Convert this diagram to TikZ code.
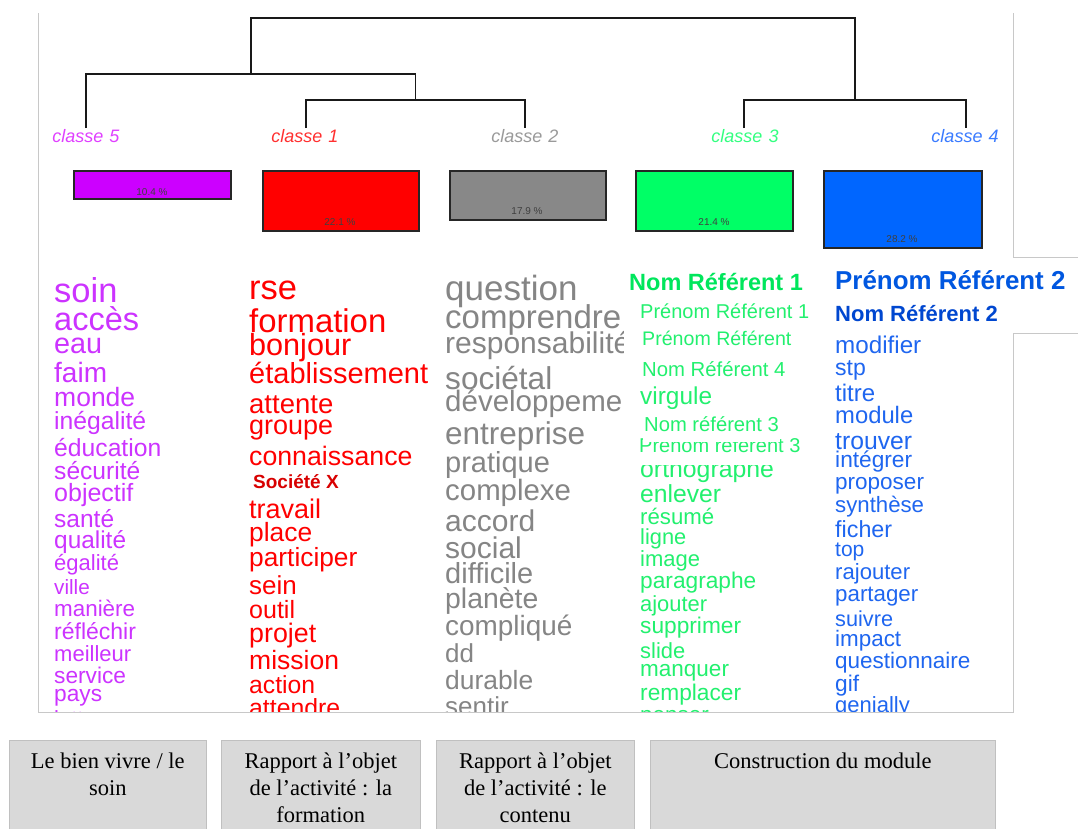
\documentclass[tikz,border=0pt]{standalone}
\usepackage{fontspec}
\setmainfont{Liberation Sans}
\newfontfamily\serifbox{Liberation Serif}
\newcommand\wsz[1]{\fontsize{#1}{#1}\selectfont}
\definecolor{cmag}{HTML}{CC33FF}
\definecolor{cred}{HTML}{FF0000}
\definecolor{cgray}{HTML}{858585}
\definecolor{cgreen}{HTML}{22F06E}
\definecolor{cblue}{HTML}{1F66F0}
\definecolor{bmag}{HTML}{CC00FF}
\definecolor{bred}{HTML}{FF0000}
\definecolor{bgray}{HTML}{888888}
\definecolor{bgreen}{HTML}{00FF66}
\definecolor{bblue}{HTML}{0066FF}
\definecolor{lmag}{HTML}{E040FF}
\definecolor{lred}{HTML}{FF3030}
\definecolor{lgray}{HTML}{9A9A9A}
\definecolor{lgreen}{HTML}{33FF80}
\definecolor{lblue}{HTML}{3A7BFF}
\definecolor{gbold}{HTML}{00E65C}
\definecolor{bbold}{HTML}{0057E0}
\definecolor{bbold2}{HTML}{0047D0}
\definecolor{sred}{HTML}{D80000}
\definecolor{boxfill}{HTML}{D9D9D9}
\definecolor{boxline}{HTML}{C0C0C0}
\definecolor{frameline}{HTML}{C8C8C8}
\begin{document}
\begin{tikzpicture}[x=1pt,y=-1pt,
  w/.style={anchor=base west, inner sep=0pt, font=\wsz{#1}},
  wb/.style={anchor=base west, inner sep=0pt, font=\wsz{#1}\bfseries},
  cls/.style={inner sep=0pt, font=\wsz{18}\itshape},
  dendro/.style={line width=1.5pt, draw=black!90},
  bar/.style={draw=black!85, line width=1.5pt, anchor=north west, inner sep=0pt},
  pct/.style={inner sep=0pt, font=\wsz{10}, text=black!75},
  frame/.style={draw=frameline, line width=1pt},
  bbox/.style={fill=boxfill, draw=boxline, line width=0.6pt, anchor=north west, inner sep=0pt, minimum height=92},
  btext/.style={font=\serifbox\fontsize{22.5}{27}\selectfont, align=center, inner sep=0pt, anchor=north}]
\useasboundingbox[fill=white] (0,0) rectangle (1078,828);

% class labels
\node[cls, text=lmag] (c5) at (86,136) {classe\,\,5};
\node[cls, text=lred] (c1) at (305,136) {classe\,\,1};
\node[cls, text=lgray] (c2) at (525,136) {classe\,\,2};
\node[cls, text=lgreen] (c3) at (745,136) {classe\,\,3};
\node[cls, text=lblue] (c4) at (965,136) {classe\,\,4};

% dendrogram
\coordinate (d5) at (86,128);
\coordinate (d1) at (306,128);
\coordinate (d2) at (525,128);
\coordinate (d3) at (744,128);
\coordinate (d4) at (966,128);
\coordinate (j12) at (415.5,100);
\coordinate (j34) at (855,100);
\coordinate (j512) at (250.75,74);
\draw[dendro] (d1) -- ++(0,-28) -| (d2);
\draw[dendro] (d5) -- ++(0,-54) -| (j12);
\draw[dendro] (d3) -- ++(0,-28) -| (d4);
\draw[dendro] (j512) -- ++(0,-56) -| (j34);

% bars
\node[bar, fill=bmag, minimum width=157, minimum height=28] (b5) at (73,170) {};
\node[bar, fill=bred, minimum width=156, minimum height=60] (b1) at (262,170) {};
\node[bar, fill=bgray, minimum width=156, minimum height=49] (b2) at (449,170) {};
\node[bar, fill=bgreen, minimum width=157, minimum height=60] (b3) at (635,170) {};
\node[bar, fill=bblue, minimum width=158, minimum height=77] (b4) at (823,170) {};
\node[pct] (p5) at (152,192) {10.4 \%};
\node[pct] (p1) at (340,222) {22.1 \%};
\node[pct] (p2) at (527,211) {17.9 \%};
\node[pct] (p3) at (714,222) {21.4 \%};
\node[pct] (p4) at (902,239) {28.2 \%};

% magenta column
\begin{scope}
\clip (38,255) rectangle (245,712);
\foreach \word/\sz/\yy [count=\i] in {soin/34.5/291, accès/32.5/319, eau/28.8/343, faim/28/372, monde/26.5/397, inégalité/24.7/420, éducation/24.7/447, sécurité/24.6/470, objectif/25/492, santé/24.5/518, qualité/24.4/539, égalité/22/562, ville/20.7/586, manière/22.4/608, réfléchir/23/631, meilleur/22/653, service/22.7/675, pays/22.7/693, lutter/22/718}
  \node[w=\sz, text=cmag] (m\i) at (54,{\yy+0.26*\sz+3}) {\word};
\end{scope}

% red column
\begin{scope}
\clip (245,255) rectangle (430,712);
\foreach \word/\sz/\yy [count=\i] in {rse/34.5/288, formation/32.9/321, bonjour/30.6/345, établissement/29/373, attente/27.5/403, groupe/27/424, connaissance/26.7/456}
  \node[w=\sz, text=cred] (r\i) at (249,{\yy+0.26*\sz+3}) {\word};
\node[wb=19, text=sred] (rX) at (253,488) {Société X};
\foreach \word/\sz/\yy [count=\i] in {travail/27/508, place/26.4/532, participer/26.3/557, sein/26/585, outil/25/609, projet/26.8/633, mission/26.5/660, action/24.7/684, attendre/24.8/707}
  \node[w=\sz, text=cred] (s\i) at (249,{\yy+0.26*\sz+3}) {\word};
\end{scope}

% gray column
\begin{scope}
\clip (440,255) rectangle (623,712);
\foreach \word/\sz/\yy [count=\i] in {question/35/288, comprendre/33/317, responsabilité/30/343, sociétal/31.6/378, développement/29.5/401, entreprise/31.5/433, pratique/29/462, complexe/29.4/490, accord/30/521, social/30/548, difficile/29/573, planète/28.4/598, compliqué/27.9/625, dd/26/653, durable/26.4/680, sentir/26/706}
  \node[w=\sz, text=cgray] (q\i) at (445,{\yy+0.26*\sz+3}) {\word};
\end{scope}

% green column
\begin{scope}
\clip (624,255) rectangle (1013,712);
\node[wb=23.5, text=gbold] (g1) at (629,290) {Nom Référent 1};
\node[w=20, text=cgreen] (g2) at (640,318) {Prénom Référent 1};
\node[w=19.6, text=cgreen] (g3) at (642,345) {Prénom Référent};
\node[w=20.3, text=cgreen] (g4) at (642,376.5) {Nom Référent 4};
\node[w=24.4, text=cgreen] (g5) at (640,404) {virgule};
\node[w=24.8, text=cgreen] (g8) at (640,477) {orthographe};
\node[w=20, text=cgreen, fill=white, inner xsep=1pt, text depth=12pt] (g7) at (638,452.5) {Prénom référent 3};
\node[w=20.2, text=cgreen, fill=white, inner xsep=1pt, text depth=10pt] (g6) at (643,431.5) {Nom référent 3};
\foreach \word/\sz/\yy [count=\i] in {enlever/24.7/493, résumé/22.2/516, ligne/21.8/536, image/22/558, paragraphe/22.7/580, ajouter/21.9/603, supprimer/22.7/625, slide/21.9/650, manquer/22.5/668, remplacer/22.7/692, penser/22.5/714}
  \node[w=\sz, text=cgreen] (h\i) at (640,{\yy+0.26*\sz+3}) {\word};
\end{scope}

% blue column
\begin{scope}
\clip (825,255) rectangle (1078,712);
\node[wb=25.9, text=bbold] (k1) at (835,289) {Prénom Référent 2};
\node[wb=22, text=bbold2] (k2) at (835,321.5) {Nom Référent 2};
\foreach \word/\sz/\yy [count=\i] in {modifier/24.2/344, stp/23/367, titre/24/392, module/23.8/414, trouver/24.7/440, intégrer/22.7/459, proposer/22.5/481, synthèse/22.2/504, ficher/23.3/528, top/21/548, rajouter/22.1/571, partager/22.3/593, suivre/21.7/618, impact/22.4/638, questionnaire/22.5/660, gif/22.7/683, genially/22/704}
  \node[w=\sz, text=cblue] (n\i) at (835,{\yy+0.26*\sz+3}) {\word};
\end{scope}

% frame
\draw[frame] (38,13) -- (38,712) -- (1013,712) -- (1013,333) -- (1078,333);
\draw[frame] (1013,13) -- (1013,257) -- (1078,257);

% bottom boxes
\node[bbox, minimum width=197] (x1) at (9,740) {};
\node[bbox, minimum width=199] (x2) at (221,740) {};
\node[bbox, minimum width=198] (x3) at (436,740) {};
\node[bbox, minimum width=345] (x4) at (650,740) {};
\node[btext] (t1) at ([yshift=-13pt]x1.north) {Le bien vivre / le\\soin};
\node[btext] (t2) at ([yshift=-13pt]x2.north) {Rapport à l’objet\\de l’activité~: la\\formation};
\node[btext] (t3) at ([yshift=-13pt]x3.north) {Rapport à l’objet\\de l’activité~: le\\contenu};
\node[btext] (t4) at ([yshift=-13pt]x4.north) {Construction du module};
\end{tikzpicture}
\end{document}
